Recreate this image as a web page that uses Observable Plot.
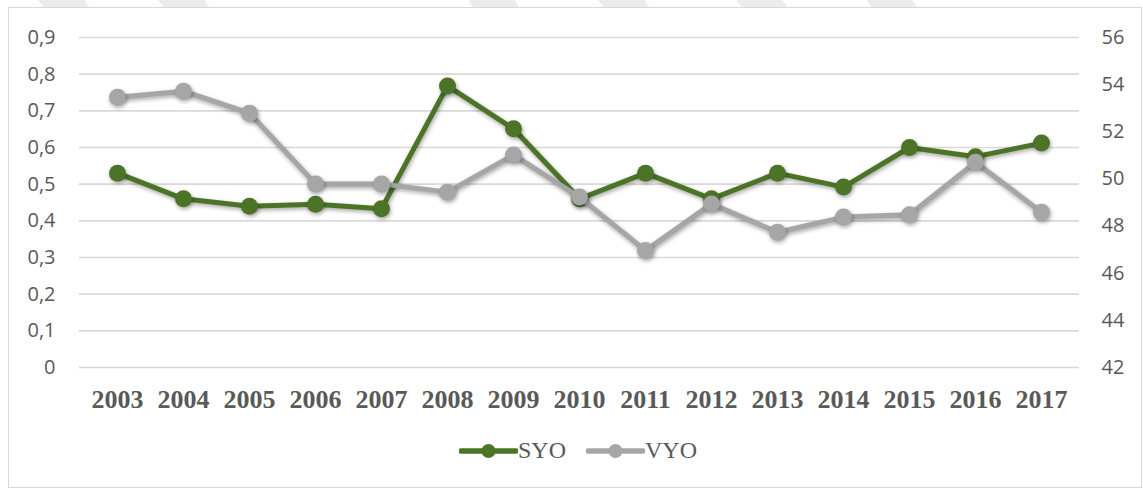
<!DOCTYPE html>
<html>
<head>
<meta charset="utf-8">
<script src="https://cdn.jsdelivr.net/npm/d3@7"></script>
<script src="https://cdn.jsdelivr.net/npm/@observablehq/plot@0.6"></script>
<style>
  body { margin: 0; background: #fff; }
  #wrap { position: relative; width: 1143px; height: 489px; overflow: hidden; background: #fff; }
  .stripe { position: absolute; top: -2px; width: 46px; height: 9px; background: #ececec; transform: skewX(35deg); }
  #frame { position: absolute; left: 8px; top: 7px; width: 1134px; height: 481px; border: 1.5px solid #d9d9d9; box-sizing: border-box; background: #fff; }
  #chart { position: absolute; left: 0; top: 0; }
  #chart svg g[aria-label="line"], #chart svg g[aria-label="dot"] { filter: drop-shadow(1px 2px 2px rgba(0,0,0,0.35)); }
  #legend { position: absolute; top: 437px; left: 459px; display: flex; align-items: center; font-family: "Liberation Serif", "Times New Roman", serif; font-size: 24px; color: #595959; }
  #legend .item { display: flex; align-items: center; margin-right: 20px; }
  #legend svg { display: block; }
</style>
</head>
<body>
<div id="wrap">
  <div class="stripe" style="left:40px"></div>
  <div class="stripe" style="left:160px"></div>
  <div class="stripe" style="left:470px"></div>
  <div class="stripe" style="left:600px"></div>
  <div class="stripe" style="left:738px"></div>
  <div class="stripe" style="left:868px"></div>
  <div id="frame"></div>
  <div id="chart"></div>
  <div id="legend"></div>
</div>
<script>
const years = [2003, 2004, 2005, 2006, 2007, 2008, 2009, 2010, 2011, 2012, 2013, 2014, 2015, 2016, 2017];
const syo = [0.53, 0.46, 0.44, 0.445, 0.433, 0.768, 0.651, 0.46, 0.53, 0.46, 0.53, 0.492, 0.60, 0.575, 0.612];
const vyo = [53.47, 53.72, 52.79, 49.79, 49.79, 49.44, 51.02, 49.23, 46.96, 48.94, 47.74, 48.38, 48.48, 50.71, 48.59];
const leftTicks = [0, 0.1, 0.2, 0.3, 0.4, 0.5, 0.6, 0.7, 0.8, 0.9];
const rightTicks = [42, 44, 46, 48, 50, 52, 54, 56];
const seriesNames = ["SYO", "VYO"];
const seriesColors = ["#4b7427", "#a6a6a6"];

// map the right-axis values onto the left-axis domain
const rightToLeft = d3.scaleLinear().domain([42, 56]).range([0, 0.9]);

const data = years.map((y, i) => ({
  year: String(y),
  syo: syo[i],
  vyo: rightToLeft(vyo[i])
}));

const fmtLeft = d => d === 0 ? "0" : d3.format(".1f")(d).replace(".", ",");

const chart = Plot.plot({
  width: 1143,
  height: 425,
  marginLeft: 79,
  marginRight: 64,
  marginTop: 37,
  marginBottom: 58,
  style: { background: "transparent", overflow: "visible" },
  x: { type: "point", domain: years.map(String), padding: 0.5 },
  y: { domain: [0, 0.9] },
  marks: [
    Plot.gridY(leftTicks, { stroke: "#d9d9d9", strokeOpacity: 1, strokeWidth: 1.6 }),
    Plot.axisY(leftTicks, {
      anchor: "left", tickSize: 0, tickPadding: 24, label: null,
      tickFormat: fmtLeft, fontSize: 20, fontFamily: "Open Sans", fill: "#595959"
    }),
    Plot.axisY(rightTicks.map(rightToLeft), {
      anchor: "right", tickSize: 0, tickPadding: 22, label: null,
      tickFormat: d => String(Math.round(rightToLeft.invert(d))),
      fontSize: 20, fontFamily: "Open Sans", fill: "#595959"
    }),
    Plot.axisX({
      tickSize: 0, tickPadding: 22, label: null,
      fontSize: 26, fontWeight: "bold", fontFamily: "Liberation Serif", fill: "#595959"
    }),
    Plot.line(data, { x: "year", y: "syo", stroke: seriesColors[0], strokeWidth: 5 }),
    Plot.dot(data, { x: "year", y: "syo", r: 8.5, fill: seriesColors[0] }),
    Plot.line(data, { x: "year", y: "vyo", stroke: seriesColors[1], strokeWidth: 5 }),
    Plot.dot(data, { x: "year", y: "vyo", r: 8.5, fill: seriesColors[1] })
  ]
});
document.getElementById("chart").appendChild(chart);

// legend
const legend = document.getElementById("legend");
seriesNames.forEach((name, i) => {
  const item = document.createElement("div");
  item.className = "item";
  item.innerHTML = `<svg width="59" height="24"><line x1="2" x2="57" y1="12" y2="12" stroke="${seriesColors[i]}" stroke-width="5.5" stroke-linecap="round"/><circle cx="29.5" cy="12" r="7" fill="${seriesColors[i]}"/></svg><span>${name}</span>`;
  legend.appendChild(item);
});
</script>
</body>
</html>
